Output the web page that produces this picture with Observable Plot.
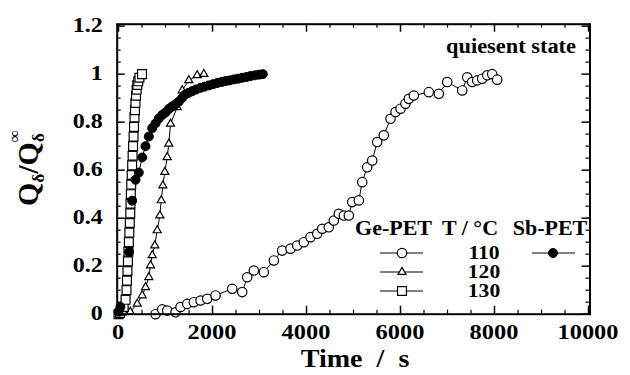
<!DOCTYPE html>
<html><head><meta charset="utf-8">
<script src="https://cdn.jsdelivr.net/npm/d3@7"></script>
<script src="https://cdn.jsdelivr.net/npm/@observablehq/plot@0.6"></script>
<style>body{margin:0;background:#fff} svg{display:block}</style>
</head><body><div id="chart"></div>
<script>
// Ge-PET 110 °C (open circles)
const ge110_t = [787, 930, 1036, 1213, 1319, 1462, 1602, 1745, 1887, 2064, 2419, 2632, 2738, 2879, 3091, 3304, 3483, 3660, 3802, 3943, 4085, 4228, 4334, 4474, 4581, 4687, 4794, 4900, 4972, 5113, 5185, 5291, 5398, 5504, 5645, 5787, 5894, 6000, 6106, 6177, 6283, 6602, 6815, 6994, 7313, 7419, 7525, 7632, 7738, 7845, 7951, 8057];
const ge110_q = [0.0, 0.02, 0.015, 0.008, 0.03, 0.043, 0.05, 0.057, 0.064, 0.078, 0.106, 0.092, 0.154, 0.182, 0.175, 0.224, 0.265, 0.273, 0.286, 0.3, 0.321, 0.335, 0.356, 0.362, 0.39, 0.418, 0.411, 0.411, 0.467, 0.474, 0.55, 0.612, 0.64, 0.717, 0.745, 0.814, 0.842, 0.856, 0.877, 0.897, 0.911, 0.925, 0.918, 0.967, 0.932, 0.987, 0.967, 0.974, 0.981, 0.995, 1.0, 0.977];
// Ge-PET 120 °C (triangles)
const ge120_t = [0, 250, 398, 504, 574, 645, 681, 717, 772, 823, 879, 909, 943, 985, 1036, 1070, 1106, 1249, 1355, 1496, 1674, 1815];
const ge120_q = [0, 0.01, 0.043, 0.078, 0.112, 0.154, 0.203, 0.245, 0.286, 0.349, 0.411, 0.474, 0.536, 0.592, 0.654, 0.71, 0.793, 0.862, 0.932, 0.974, 0.995, 1.0];
// Ge-PET 130 °C (squares)
const ge130_t = [0, 30, 70, 110, 150, 170, 180, 190, 200, 210, 220, 230, 240, 250, 255, 262, 270, 280, 290, 300, 310, 320, 330, 340, 350, 360, 372, 385, 400, 420, 445, 500];
const ge130_q = [0, 0.005, 0.015, 0.03, 0.06, 0.1, 0.14, 0.18, 0.22, 0.26, 0.3, 0.34, 0.38, 0.42, 0.46, 0.5, 0.54, 0.58, 0.62, 0.66, 0.7, 0.74, 0.78, 0.82, 0.85, 0.88, 0.91, 0.935, 0.955, 0.97, 0.985, 1.0];
// Sb-PET 110 °C (filled circles)
const sb110_t = [0, 40, 225, 291, 362, 432, 504, 574, 645, 717, 788, 858, 929, 1000, 1070, 1140, 1213, 1280, 1350, 1420, 1490, 1567, 1650, 1745, 1830, 1922, 2010, 2100, 2190, 2277, 2365, 2454, 2540, 2631, 2720, 2809, 2900, 2990, 3070];
const sb110_q = [0.01, 0.03, 0.26, 0.473, 0.56, 0.59, 0.653, 0.70, 0.74, 0.775, 0.795, 0.815, 0.83, 0.84, 0.855, 0.865, 0.874, 0.885, 0.9, 0.915, 0.922, 0.929, 0.936, 0.943, 0.948, 0.953, 0.958, 0.963, 0.967, 0.971, 0.974, 0.978, 0.981, 0.985, 0.988, 0.992, 0.995, 0.998, 1.0];

const xTicks = [0, 2000, 4000, 6000, 8000, 10000];
const xTickLabels = ["0", "2000", "4000", "6000", "8000", "10000"];
const yTicks = [0, 0.2, 0.4, 0.6, 0.8, 1, 1.2];
const yTickLabels = ["0", "0.2", "0.4", "0.6", "0.8", "1", "1.2"];
const xMinor = d3.range(0, 10001, 500).filter(v => v % 2000 !== 0);
const yMinor = d3.range(0, 25).map(i => i * 0.05).filter(v => Math.abs(v / 0.2 - Math.round(v / 0.2)) > 1e-6);

const legendRows = ["110", "120", "130"];
const legendSymbols = ["circle", "triangle", "square"];

const tbl = (ts, qs) => ts.map((t, i) => ({t, q: qs[i]}));
const ge110 = tbl(ge110_t, ge110_q);
const ge120 = tbl(ge120_t, ge120_q);
const ge130 = tbl(ge130_t, ge130_q);
const sb110 = tbl(sb110_t, sb110_q);

const W = 630, H = 375, mL = 116.7, mR = 40.5, mT = 23.7, mB = 61.3;
const fh = H - mT - mB, fw = W - mL - mR;
const FONT = "Liberation Serif";

const svg = Plot.plot({
  width: W, height: H,
  marginLeft: mL, marginRight: mR, marginTop: mT, marginBottom: mB,
  x: {domain: [-28, 10032], axis: null},
  y: {domain: [0, 1.208], axis: null},
  style: {fontFamily: FONT, background: "white", color: "black"},
  marks: [
    // inward ticks, all four sides
    Plot.tickX(xTicks, {x: d => d, insetTop: fh - 8, strokeWidth: 1.5}),
    Plot.tickX(xTicks, {x: d => d, insetBottom: fh - 8, strokeWidth: 1.5}),
    Plot.tickX(xMinor, {x: d => d, insetTop: fh - 4, strokeWidth: 1.2}),
    Plot.tickX(xMinor, {x: d => d, insetBottom: fh - 4, strokeWidth: 1.2}),
    Plot.tickY(yTicks, {y: d => d, insetRight: fw - 8, strokeWidth: 1.5}),
    Plot.tickY(yTicks, {y: d => d, insetLeft: fw - 8, strokeWidth: 1.5}),
    Plot.tickY(yMinor, {y: d => d, insetRight: fw - 4, strokeWidth: 1.2}),
    Plot.tickY(yMinor, {y: d => d, insetLeft: fw - 4, strokeWidth: 1.2}),
    // lines
    Plot.line(ge110, {x: "t", y: "q", stroke: "black", strokeWidth: 1}),
    Plot.line(ge120, {x: "t", y: "q", stroke: "black", strokeWidth: 1}),
    Plot.line(ge130, {x: "t", y: "q", stroke: "black", strokeWidth: 1}),
    Plot.line(sb110, {x: "t", y: "q", stroke: "black", strokeWidth: 1}),
    // markers
    Plot.dot(ge110, {x: "t", y: "q", r: 4.7, symbol: "circle", fill: "white", stroke: "black", strokeWidth: 1.2}),
    Plot.dot(ge120, {x: "t", y: "q", r: 3, symbol: "triangle", fill: "white", stroke: "black", strokeWidth: 1.2}),
    Plot.dot(ge130, {x: "t", y: "q", r: 5, symbol: "square", fill: "white", stroke: "black", strokeWidth: 1.2}),
    Plot.dot(sb110, {x: "t", y: "q", r: 4.5, symbol: "circle", fill: "black", stroke: "black", strokeWidth: 1}),
    Plot.frame({stroke: "black", strokeWidth: 2})
  ]
});

const xs = svg.scale("x"), ys = svg.scale("y");
const s = d3.select(svg);
const addText = (x, y, str, size, anchor, sx) => s.append("text")
  .attr("transform", `translate(${x},${y}) scale(${sx},1)`)
  .attr("text-anchor", anchor).attr("font-family", FONT).attr("font-weight", "bold")
  .attr("font-size", size).attr("fill", "black").text(str);

// tick labels placed through Plot's scales (horizontally widened like the original)
xTicks.forEach((v, i) => addText(xs.apply(v), H - mB + 25, xTickLabels[i], 20, "middle", 1.22));
yTicks.forEach((v, i) => addText(mL - 14, ys.apply(v) + 6.5, yTickLabels[i], 20, "end", 1.2));

// annotation
addText(576, 53, "quiesent state", 20, "end", 1.12);

// x-axis title
addText(355, 367, "Time\u00a0\u00a0/\u00a0\u00a0s", 26, "middle", 1.08);

// y-axis title with sub/superscripts
const yl = s.append("text")
  .attr("transform", "translate(38,168) rotate(-90)")
  .attr("text-anchor", "middle")
  .attr("font-family", FONT).attr("font-weight", "bold").attr("font-size", 30).attr("fill", "black");
yl.append("tspan").text("Q");
yl.append("tspan").attr("dy", 6).attr("font-size", 17).text("δ");
yl.append("tspan").attr("dy", -6).text("/Q");
yl.append("tspan").attr("dy", 6).attr("font-size", 17).text("δ");
yl.append("tspan").attr("dx", -9).attr("dy", -24).attr("font-size", 17).text("∞");

// legend
addText(393.5, 235, "Ge-PET", 20, "middle", 1.1);
addText(470, 235, "T / °C", 20, "middle", 1.1);
addText(550, 235, "Sb-PET", 20, "middle", 1.1);
const rowY = [253, 272, 291];
legendRows.forEach((lab, i) => {
  addText(484, rowY[i] + 6, lab, 18, "middle", 1.2);
  s.append("line").attr("x1", 380).attr("x2", 423).attr("y1", rowY[i]).attr("y2", rowY[i]).attr("stroke", "black").attr("stroke-width", 1);
  const sym = {circle: d3.symbolCircle, triangle: d3.symbolTriangle, square: d3.symbolSquare}[legendSymbols[i]];
  const r = [4.7, 3, 5][i];
  s.append("path").attr("d", d3.symbol(sym, Math.PI * r * r)()).attr("transform", `translate(402,${rowY[i]})`)
    .attr("fill", "white").attr("stroke", "black").attr("stroke-width", 1.2);
});
s.append("line").attr("x1", 532).attr("x2", 575).attr("y1", rowY[0]).attr("y2", rowY[0]).attr("stroke", "black").attr("stroke-width", 1);
s.append("path").attr("d", d3.symbol(d3.symbolCircle, Math.PI * 4.5 * 4.5)()).attr("transform", `translate(553,${rowY[0]})`)
  .attr("fill", "black").attr("stroke", "black");

document.getElementById("chart").appendChild(svg);
</script>
</body></html>
